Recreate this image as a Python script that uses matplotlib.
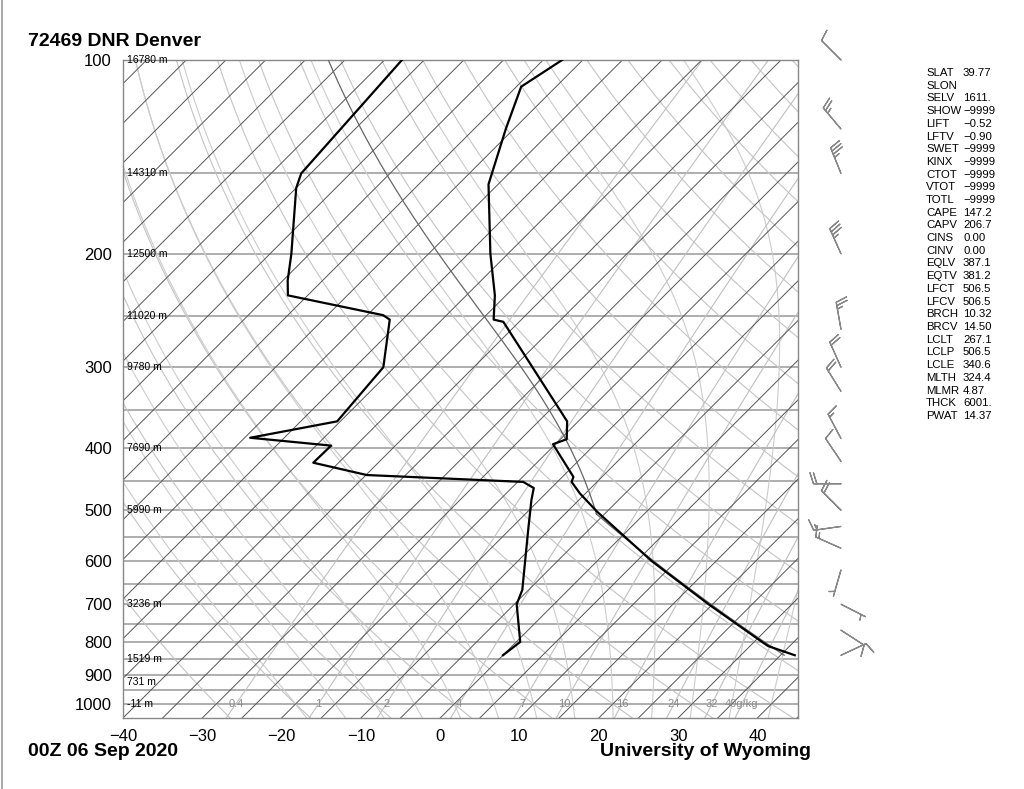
import numpy as np
import matplotlib.pyplot as plt
from matplotlib.lines import Line2D

plt.rcParams['font.family'] = ['Liberation Sans', 'DejaVu Sans']

# sounding (hPa, degC)
temp_p = [840, 813, 801, 700, 600, 503, 471, 452, 444, 395, 388, 364, 255, 253, 232, 200, 156, 128, 110, 100]
temp_t = [36.8, 32.3, 31.0, 19.5, 6.9, -6.2, -10.7, -13.2, -13.6, -20.3, -19.2, -21.4, -42.0, -43.5, -46.4, -52.2,
          -61.2, -66.0, -69.4, -67.6]
dew_p = [840, 801, 700, 665, 537, 482, 462, 452, 441, 422, 397, 386, 364, 300, 253, 249, 232, 220, 200, 158, 150, 100]
dew_t = [0.0, 0.5, -4.7, -5.8, -12.6, -16.0, -17.2, -19.3, -39.9, -48.2, -48.1, -59.3, -50.4, -51.4, -56.6, -58.0,
         -72.5, -74.4, -77.3, -85.0, -86.2, -87.8]

# winds (hPa, deg, knots)
wind_p = [100, 128, 150, 200, 262, 300, 327, 387, 420, 455, 500, 530, 573, 619, 700, 768, 840]
wind_dir = [315, 320, 338, 336, 350, 336, 328, 332, 326, 270, 315, 262, 294, 196, 117, 123, 65]
wind_spd = [10, 25, 35, 35, 25, 20, 20, 15, 10, 20, 20, 15, 15, 5, 5, 10, 10]

heights = [(100, '16780 m'), (150, '14310 m'), (200, '12500 m'), (250, '11020 m'), (300, '9780 m'),
           (400, '7690 m'), (500, '5990 m'), (700, '3236 m'), (850, '1519 m'), (925, '731 m'), (1000, '-11 m')]
mix_ratios = [0.4, 1, 2, 4, 7, 10, 16, 24, 32, 40]

indices = [('SLAT', '39.77'), ('SLON', ''), ('SELV', '1611.'), ('SHOW', '-9999'), ('LIFT', '-0.52'),
           ('LFTV', '-0.90'), ('SWET', '-9999'), ('KINX', '-9999'), ('CTOT', '-9999'), ('VTOT', '-9999'),
           ('TOTL', '-9999'), ('CAPE', '147.2'), ('CAPV', '206.7'), ('CINS', '0.00'), ('CINV', '0.00'),
           ('EQLV', '387.1'), ('EQTV', '381.2'), ('LFCT', '506.5'), ('LFCV', '506.5'), ('BRCH', '10.32'),
           ('BRCV', '14.50'), ('LCLT', '267.1'), ('LCLP', '506.5'), ('LCLE', '340.6'), ('MLTH', '324.4'),
           ('MLMR', '4.87'), ('THCK', '6001.'), ('PWAT', '14.37')]

lcl_t = 267.1
lcl_p = 506.5
ml_theta = 324.4
sfc_p = 840

# chart geometry
P_BOT, P_TOP = 1051.3, 100.0
XMIN, XMAX = -40.0, 45.12
W_PX, H_PX = 675.0, 658.0
K = (H_PX / np.log(P_BOT / P_TOP)) / (W_PX / (XMAX - XMIN))

Rd, Cp, Lv, EPS = 287.04, 1005.7, 2.501e6, 0.622


def skew(t, p):
    return np.asarray(t) + K * np.log(P_BOT / np.asarray(p))


def es(tc):
    return 6.112 * np.exp(17.67 * tc / (tc + 243.5))


def dewpt(w, p):
    e = w * p / (622.0 + w)
    a = np.log(e / 6.112)
    return 243.5 * a / (17.67 - a)


def dtdp(tk, p):
    e = es(tk - 273.15)
    rs = EPS * e / (p - e)
    return ((Rd * tk + Lv * rs) / p) / (Cp + Lv * Lv * rs * EPS / (Rd * tk * tk))


def moist(t0k, p0, p_end, n=300):
    ps = np.linspace(p0, p_end, n)
    ts = [t0k]
    for i in range(1, n):
        h = ps[i] - ps[i - 1]
        t = ts[-1]
        p = ps[i - 1]
        k1 = dtdp(t, p)
        k2 = dtdp(t + h * k1 / 2, p + h / 2)
        k3 = dtdp(t + h * k2 / 2, p + h / 2)
        k4 = dtdp(t + h * k3, p + h)
        ts.append(t + h * (k1 + 2 * k2 + 2 * k3 + k4) / 6)
    return ps, np.array(ts)


fig = plt.figure(figsize=(10.24, 7.89), dpi=100)
ax = fig.add_axes([123 / 1024, 71 / 789, W_PX / 1024, H_PX / 789])
ax.set_yscale('log')
ax.set_ylim(P_BOT, P_TOP)
ax.set_xlim(XMIN, XMAX)

pp = np.geomspace(P_BOT, P_TOP, 200)

# isobars
for p in range(100, 1001, 50):
    ax.axhline(p, color='#999999', lw=1.1, zorder=1)

# isotherms
for t in range(-130, 50, 5):
    ax.plot(skew([t, t], [P_BOT, P_TOP]), [P_BOT, P_TOP], color='#555555', lw=0.7, zorder=2)

# dry adiabats
for th in range(-30, 200, 10):
    tk = (th + 273.15) * (pp / 1000.0) ** 0.286
    ax.plot(skew(tk - 273.15, pp), pp, color='#c4c4c4', lw=0.8, zorder=1)

# moist adiabats
for t0 in range(-20, 46, 5):
    p_up, t_up = moist(t0 + 273.15, 1000.0, P_TOP)
    p_dn, t_dn = moist(t0 + 273.15, 1000.0, P_BOT, n=20)
    ps = np.concatenate([p_dn[::-1], p_up[1:]])
    ts = np.concatenate([t_dn[::-1], t_up[1:]])
    ax.plot(skew(ts - 273.15, ps), ps, color='#cccccc', lw=0.8, zorder=1)

# mixing ratio lines
for w in mix_ratios:
    ax.plot(skew(dewpt(w, pp), pp), pp, color='#c0c0c0', lw=0.8, zorder=1)
    lab = '40g/kg' if w == 40 else ('%g' % w)
    ax.text(skew(dewpt(w, 1000.0), 1000.0), 1000, lab, color='#8c8c8c', fontsize=8,
            ha='center', va='center', zorder=3)

# parcel path
pd = np.geomspace(sfc_p, lcl_p, 40)
td = ml_theta * (pd / 1000.0) ** 0.286
pm, tm = moist(lcl_t, lcl_p, P_TOP)
ax.plot(skew(np.concatenate([td, tm]) - 273.15, np.concatenate([pd, pm])), np.concatenate([pd, pm]),
        color='#666666', lw=0.9, zorder=3)

# sounding
ax.plot(skew(temp_t, temp_p), temp_p, color='black', lw=1.6, zorder=4)
ax.plot(skew(dew_t, dew_p), dew_p, color='black', lw=1.6, zorder=4)

# heights
for p, s in heights:
    ax.text(0.006, p, s, transform=ax.get_yaxis_transform(), fontsize=7.5, ha='left', va='center', zorder=3)

ax.set_yticks(range(100, 1001, 100))
ax.set_yticklabels([str(p) for p in range(100, 1001, 100)])
ax.yaxis.set_minor_locator(plt.NullLocator())
ax.yaxis.set_minor_formatter(plt.NullFormatter())
ax.set_xticks(range(-40, 41, 10))
ax.set_xticklabels(['\u2212%d' % -t if t < 0 else str(t) for t in range(-40, 41, 10)])
ax.tick_params(length=0, labelsize=12, pad=8)
for s in ax.spines.values():
    s.set_color('#888888')
    s.set_linewidth(1.0)

# wind barbs
bx = fig.add_axes([801 / 1024, 71 / 789, 80 / 1024, H_PX / 789])
bx.set_yscale('log')
bx.set_ylim(P_BOT, P_TOP)
bx.set_xlim(-1, 1)
bx.axis('off')
rad = np.deg2rad(wind_dir)
u = -np.array(wind_spd) * np.sin(rad)
v = -np.array(wind_spd) * np.cos(rad)
bx.barbs(np.zeros(len(wind_p)), wind_p, u, v, color='#888888', length=6.3, linewidth=0.9, clip_on=False)

# titles
fig.text(28 / 1024, 1 - 42 / 789, '72469 DNR Denver', fontsize=14, fontweight='bold', va='center')
fig.text(28 / 1024, 1 - 752 / 789, '00Z 06 Sep 2020', fontsize=14, fontweight='bold', va='center')
fig.text(811 / 1024, 1 - 752 / 789, 'University of Wyoming', fontsize=14, fontweight='bold', va='center',
         ha='right')

# station indices
for i, (k, val) in enumerate(indices):
    y = 1 - (73 + i * 12.7) / 789
    fig.text(926 / 1024, y, k, fontsize=8.2, va='center')
    fig.text(963 / 1024, y, val.replace('-', '\u2212'), fontsize=8.2, va='center')

fig.add_artist(Line2D([1.5 / 1024, 1.5 / 1024], [0, 1], color='#999999', lw=1.2))

fig.savefig('out.png', dpi=100)
